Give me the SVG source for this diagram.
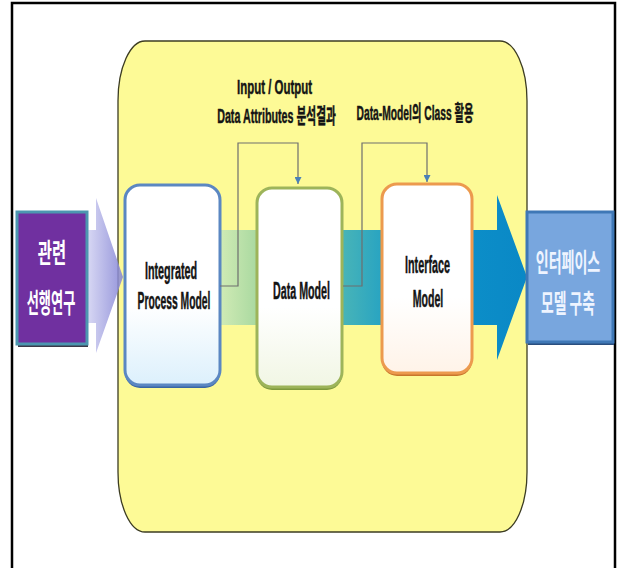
<svg xmlns="http://www.w3.org/2000/svg" width="617" height="568" viewBox="0 0 617 568">
  <style>
    .lbl { font-family: "Liberation Sans", "Noto Sans CJK KR", sans-serif; font-weight: bold; fill: #141414; stroke: #141414; stroke-width: 0.5; text-anchor: middle; }
    .kr { font-family: "Noto Sans CJK KR", "Liberation Sans", sans-serif; font-weight: bold; text-anchor: middle; }
    .conn { fill: none; stroke: #6e6e6e; stroke-width: 1.2; }
  </style>
  <defs>
    <linearGradient id="band" gradientUnits="userSpaceOnUse" x1="215" y1="0" x2="527" y2="0">
      <stop offset="0" stop-color="#d6edb8"/>
      <stop offset="0.135" stop-color="#a9d9a0"/>
      <stop offset="0.41" stop-color="#48b4b8"/>
      <stop offset="0.54" stop-color="#27a3c2"/>
      <stop offset="0.82" stop-color="#0c8ec8"/>
      <stop offset="1" stop-color="#0a88c6"/>
    </linearGradient>
    <linearGradient id="chev" gradientUnits="userSpaceOnUse" x1="87" y1="0" x2="123" y2="0">
      <stop offset="0" stop-color="#d2d2f2"/>
      <stop offset="1" stop-color="#8282d4"/>
    </linearGradient>
    <linearGradient id="fillB" x1="0" y1="0" x2="0" y2="1">
      <stop offset="0.6" stop-color="#ffffff"/>
      <stop offset="1" stop-color="#dcf0fc"/>
    </linearGradient>
    <linearGradient id="fillG" x1="0" y1="0" x2="0" y2="1">
      <stop offset="0.6" stop-color="#ffffff"/>
      <stop offset="1" stop-color="#f1f6e4"/>
    </linearGradient>
    <linearGradient id="fillO" x1="0" y1="0" x2="0" y2="1">
      <stop offset="0.6" stop-color="#ffffff"/>
      <stop offset="1" stop-color="#fff3e8"/>
    </linearGradient>
    <marker id="arr" viewBox="0 0 10 10" refX="10" refY="5" markerWidth="7" markerHeight="7" markerUnits="userSpaceOnUse" orient="auto">
      <path d="M0,0 L10,5 L0,10 Z" fill="#4a80b8"/>
    </marker>
  </defs>

  <rect x="0" y="0" width="617" height="568" fill="#ffffff"/>
  <rect id="frame" x="12" y="3" width="603" height="580" fill="none" stroke="#000" stroke-width="2.5"/>

  <g id="container">
    <path d="M145,41 H500 A27,60 0 0 1 527,101 V472 A27,60 0 0 1 500,532 H145 A27,60 0 0 1 118,472 V101 A27,60 0 0 1 145,41 Z" fill="#fdfa96" stroke="#3c3c22" stroke-width="1.3"/>
  </g>

  <g id="flow-arrows">
    <path d="M87,230 H96 V198 L123,277 L96,353 V323 H87 Z" fill="url(#chev)" fill-opacity="0.85"/>
    <path d="M215,230 H497 V195 L527,277 L497,360 V325 H215 Z" fill="url(#band)"/>
  </g>

  <g id="node-ipm">
    <rect x="125" y="188" width="95" height="200" rx="15" fill="#3a66a4"/>
    <rect x="125" y="185" width="95" height="200" rx="15" fill="url(#fillB)" stroke="#5b87c2" stroke-width="3"/>
    <text class="lbl" font-size="24" transform="translate(171,279) scale(0.45,1)">Integrated</text>
    <text class="lbl" font-size="24" transform="translate(174,309) scale(0.43,1)">Process Model</text>
  </g>

  <g id="node-dm">
    <rect x="257" y="191" width="85" height="199" rx="15" fill="#7f9a3c"/>
    <rect x="257" y="188" width="85" height="199" rx="15" fill="url(#fillG)" stroke="#9db45a" stroke-width="3"/>
    <text class="lbl" font-size="24" transform="translate(301.5,299) scale(0.445,1)">Data Model</text>
  </g>

  <g id="node-im">
    <rect x="382" y="187" width="90" height="189" rx="15" fill="#c8762c"/>
    <rect x="382" y="184" width="90" height="189" rx="15" fill="url(#fillO)" stroke="#ec9a4e" stroke-width="3"/>
    <text class="lbl" font-size="24" transform="translate(427.5,273) scale(0.45,1)">Interface</text>
    <text class="lbl" font-size="24" transform="translate(428,307) scale(0.44,1)">Model</text>
  </g>

  <g id="connectors">
    <path class="conn" d="M220,286 H238 V143 H298 V184" marker-end="url(#arr)"/>
    <path class="conn" d="M343,286 H362 V143 H427 V182" marker-end="url(#arr)"/>
  </g>

  <g id="labels">
    <text class="lbl" font-size="21" transform="translate(274.5,94) scale(0.545,1)">Input / Output</text>
    <text class="lbl" font-size="21" transform="translate(276.5,123) scale(0.51,1)">Data Attributes 분석결과</text>
    <text class="lbl" font-size="21" transform="translate(415,120) scale(0.49,1)">Data-Model의 Class 활용</text>
  </g>

  <g id="node-prior">
    <rect x="18" y="215" width="70" height="132" fill="#3a3a4a"/>
    <rect x="17" y="212" width="70" height="132" fill="#7030a0" stroke="#4c96b0" stroke-width="3"/>
    <text class="kr" font-size="27" fill="#ffffff" transform="translate(52,263) scale(0.57,1)">관련</text>
    <text class="kr" font-size="27" fill="#ffffff" transform="translate(51,313) scale(0.49,1)">선행연구</text>
  </g>

  <g id="node-result">
    <rect x="528" y="215" width="86" height="130" fill="#2a4e7e"/>
    <rect x="527" y="212" width="86" height="130" fill="#78a6de" stroke="#3f78b6" stroke-width="3"/>
    <text class="kr" font-size="26" fill="#eef4ff" transform="translate(568,272) scale(0.54,1)">인터페이스</text>
    <text class="kr" font-size="26" fill="#eef4ff" transform="translate(568,313) scale(0.53,1)">모델 구축</text>
  </g>
</svg>
